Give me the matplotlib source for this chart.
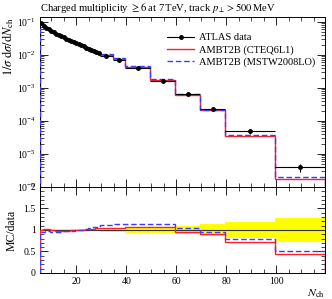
import numpy as np
import matplotlib
matplotlib.use("Agg")
import matplotlib.pyplot as plt
from matplotlib.lines import Line2D
from matplotlib.ticker import LogLocator, MultipleLocator, NullFormatter

plt.rcParams["font.family"] = ["Liberation Serif", "DejaVu Serif"]
plt.rcParams["mathtext.fontset"] = "stix"

# ------------------------------------------------------------
# DATA
# ------------------------------------------------------------
bin_edges = [5.5, 6.5, 7.5, 8.5, 9.5, 10.5, 11.5, 12.5, 13.5, 14.5, 15.5, 16.5,
             17.5, 18.5, 19.5, 20.5, 21.5, 22.5, 23.5, 24.5, 25.5, 26.5, 27.5,
             28.5, 29.5, 34.5, 39.5, 49.5, 59.5, 69.5, 79.5, 99.5, 119.5]

data_vals = [0.090, 0.077, 0.067, 0.059, 0.053, 0.048, 0.044, 0.040, 0.037,
             0.034, 0.031, 0.029, 0.027, 0.025, 0.023, 0.021, 0.0195, 0.018,
             0.0167, 0.0155, 0.0143, 0.0132, 0.0122, 0.0113,
             0.0095, 0.0072, 0.0040, 0.00166, 6.4e-4, 2.3e-4, 4.9e-5, 4.0e-6]

data_relerr = [0.02, 0.02, 0.02, 0.02, 0.02, 0.02, 0.02, 0.02, 0.02, 0.02,
               0.02, 0.02, 0.02, 0.02, 0.02, 0.02, 0.025, 0.025, 0.025, 0.025,
               0.03, 0.03, 0.03, 0.03,
               0.04, 0.05, 0.07, 0.08, 0.10, 0.14, 0.19, 0.28]

ratio_cteq = [1.00, 1.02, 1.03, 1.02, 1.00, 0.99, 0.98, 0.98, 0.98, 0.98,
              0.98, 0.98, 0.99, 0.99, 1.00, 1.00, 1.01, 1.01, 1.02, 1.02,
              1.03, 1.03, 1.04, 1.04,
              1.05, 1.05, 1.08, 1.06, 0.96, 0.91, 0.71, 0.44]

ratio_mstw = [0.95, 0.96, 0.97, 0.97, 0.96, 0.96, 0.96, 0.96, 0.96, 0.97,
              0.97, 0.97, 0.98, 0.98, 0.99, 1.00, 1.01, 1.02, 1.03, 1.04,
              1.05, 1.06, 1.07, 1.09,
              1.11, 1.13, 1.15, 1.14, 1.05, 0.96, 0.79, 0.51]

title = r"Charged multiplicity $\geq 6$ at 7$\,$TeV, track $p_{\perp} > 500\,$MeV"
legend_labels = ["ATLAS data", "AMBT2B (CTEQ6L1)", "AMBT2B (MSTW2008LO)"]

# ------------------------------------------------------------
# DERIVED ARRAYS
# ------------------------------------------------------------
edges = np.array(bin_edges)
centers = 0.5 * (edges[:-1] + edges[1:])
halfw = 0.5 * (edges[1:] - edges[:-1])
data = np.array(data_vals)
rel = np.array(data_relerr)
r_cteq = np.array(ratio_cteq)
r_mstw = np.array(ratio_mstw)
mc_cteq = data * r_cteq
mc_mstw = data * r_mstw

red = "#ff2020"
blue = "#3c3cff"
dash = (0, (4, 2))

# ------------------------------------------------------------
# FIGURE
# ------------------------------------------------------------
fig = plt.figure(figsize=(3.32, 2.99), dpi=100)
ax = fig.add_axes([0.1205, 0.3746, 0.8585, 0.5685])
axr = fig.add_axes([0.1205, 0.087, 0.8585, 0.2876], sharex=ax)

# main panel
ax.stairs(mc_cteq, edges, color=red, lw=1.0, zorder=2)
ax.stairs(mc_mstw, edges, color=blue, lw=1.0, ls=dash, zorder=3)
ax.errorbar(centers, data, xerr=halfw, yerr=data * rel, fmt="o", ms=2.5,
            color="black", lw=0.8, elinewidth=0.8, capsize=0, zorder=4)

ax.set_yscale("log")
ax.set_ylim(1e-6, 0.14)
ax.set_xlim(5.5, 119.5)
ax.yaxis.set_major_locator(LogLocator(base=10, numticks=10))
ax.yaxis.set_minor_locator(LogLocator(base=10, subs=np.arange(2, 10), numticks=20))
ax.yaxis.set_minor_formatter(NullFormatter())
ax.xaxis.set_major_locator(MultipleLocator(20))
ax.xaxis.set_minor_locator(MultipleLocator(5))
ax.tick_params(axis="x", labelbottom=False)

ax.set_title(title, loc="left", fontsize=7.6, pad=4)
ax.set_ylabel(r"$1/\sigma\; \mathrm{d}\sigma/\mathrm{d}N_{\mathrm{ch}}$", fontsize=9)
ax.yaxis.set_label_coords(-0.085, 1.0)
ax.yaxis.label.set_horizontalalignment("right")

handles = [
    Line2D([], [], color="black", lw=0.8, marker="o", ms=2.5),
    Line2D([], [], color=red, lw=1.0),
    Line2D([], [], color=blue, lw=1.0, ls=dash),
]
ax.legend(handles, legend_labels,
          loc="upper right", bbox_to_anchor=(1.0, 0.96), frameon=False,
          fontsize=7.5, handlelength=2.6, handletextpad=0.5, labelspacing=0.25)

# ratio panel
axr.stairs(1 + rel, edges, baseline=1 - rel, fill=True, color="#ffff00",
           lw=0, zorder=1)
axr.axhline(1.0, color="#333333", lw=0.8, zorder=2)
axr.stairs(r_cteq, edges, color=red, lw=1.0, zorder=3)
axr.stairs(r_mstw, edges, color=blue, lw=1.0, ls=dash, zorder=4)

axr.set_ylim(0, 2)
axr.set_yticks([0, 0.5, 1, 1.5, 2])
axr.set_yticklabels(["0", "0.5", "1", "1.5", "2"])
axr.yaxis.set_minor_locator(MultipleLocator(0.1))
axr.set_ylabel("MC/data", fontsize=8.5)
axr.set_xlabel(r"$N_{\mathrm{ch}}$", fontsize=8.5, loc="right", labelpad=1)

for a in (ax, axr):
    a.tick_params(which="both", direction="in", top=True, right=True,
                  labelsize=7, pad=3)
    a.tick_params(which="major", length=6, width=0.6)
    a.tick_params(which="minor", length=3, width=0.5)
    for s in a.spines.values():
        s.set_linewidth(0.7)

fig.savefig("out.png", dpi=100)
